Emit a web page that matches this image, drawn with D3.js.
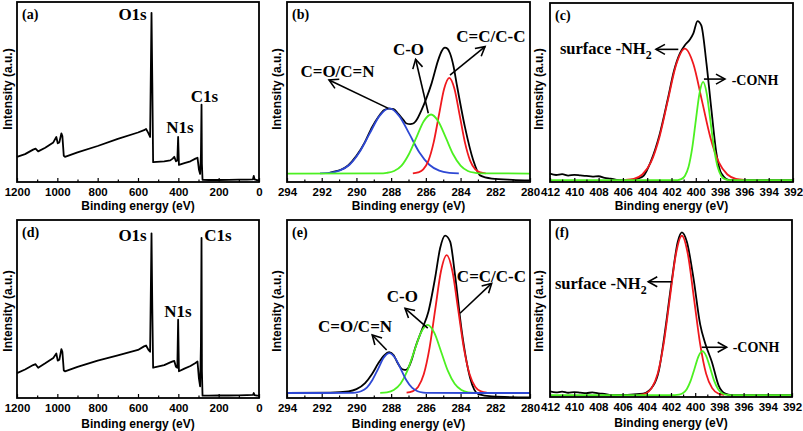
<!DOCTYPE html>
<html><head><meta charset="utf-8">
<script src="https://cdn.jsdelivr.net/npm/d3@7"></script>
<style>body{margin:0;background:#fff}svg{display:block}</style>
</head><body><svg id="chart" width="803" height="431"></svg>
<script>
// ---------- DATA (binding energy in eV, intensity in % of panel height) ----------
// (a) survey, sample 1
const surveyE_a = [1200,1160,1120,1108,1095,1060,1020,1005,998,990,980,975,968,962,900,800,700,600,570,560,548,540,533,529,525,470,440,428,420,412,405,401,397,370,340,315,305,298,292,288,285,283,280,250,200,150,100,60,30,26,22,10,0];
const surveyI_a = [14,15.5,18,18.5,17,19,22,25,21.5,22,27,25.5,14.5,14,16.5,20,24,27.5,28.8,29.5,27,25,94,55,11,11.5,12,13,14,11.5,12,25,9.5,10.5,11.5,13,13.5,7,4.5,15,43,10,1.2,1.1,1.1,1.2,1.3,1.3,1.5,3.4,1.5,1.0,1.0];
// (d) survey, sample 2
const surveyE_d = [1200,1160,1120,1108,1095,1060,1020,1005,998,990,980,975,968,962,900,800,700,600,570,560,548,540,533,529,525,470,440,428,420,412,405,401,397,370,340,315,305,298,292,288,285,283,280,250,200,150,100,60,30,26,22,10,0];
const surveyI_d = [14,16,18.5,19,17,19.5,22.5,25,21,21.5,27.5,26,15.5,15,17.5,21,24,27,29,29.5,27,26,92.5,50,17,18.5,20,20.6,20.8,17.5,17,44,15,16.5,18,19.7,20.5,11,6.5,30,90,15,1.3,1.3,1.4,1.4,1.5,1.6,1.7,2.8,1.6,1.3,1.3];
const surveyTicks = [1200,1000,800,600,400,200,0];
const surveyMinor = [1100,900,700,500,300,100];

// (b) C1s, sample 1
const c1sE_b = [291.6,291.44,290.9,290.48,290,289.52,289.1,288.75,288.4,288.13,287.85,287.6,287.3,287.11,286.9,286.73,286.5,286.25,285.95,285.67,285.29,285.1,284.9,284.75,284.61,284.4,284.23,283.75,283.27,282.88,282.2,281,280];
const c1sI_b = [4.9,5.4,6.8,9.2,14.5,22,30.5,36,40,40.8,40.5,38,34.5,32.5,32.2,32.5,35,39.9,47,54.8,67.7,72.5,74.6,74,71.5,64,54.8,30.6,12.1,3.7,1.9,1.2,0.9];
const blueE_b = [292.1,291.55,290.98,290.4,289.83,289.25,288.68,288.1,287.53,286.95,286.38,285.8,285.23,284.65,284.1];
const blueI_b = [4.8,5.1,6.3,9.6,16.5,26.7,36.6,40.9,36.6,26.7,16.5,9.6,6.3,5.1,4.8];
const greenE_b = [294,288.68,288.25,287.83,287.4,286.98,286.55,286.13,285.7,285.28,284.85,284.43,284.0,283.58,283.15,282.73,280];
const greenI_b = [4.7,4.8,5.1,6.1,9.1,15.4,24.6,33.6,37.5,33.6,24.6,15.4,9.1,6.1,5.1,4.8,4.7];
const redE_b = [286.75,286.45,286.15,285.85,285.55,285.25,284.95,284.65,284.35,284.05,283.75,283.45,283.15,282.85,282.55];
const redI_b = [4.8,5.3,7.0,11.9,22.0,37.0,51.7,57.9,51.7,37.0,22.0,11.9,7.0,5.3,4.8];

// (e) C1s, sample 2
const c1sE_e = [294,291.5,290.46,290,289.5,289.1,288.73,288.4,288.11,287.85,287.67,287.45,287.29,287.15,287.0,286.8,286.62,286.23,285.85,285.47,285.18,284.89,284.6,284.32,283.93,283.45,282.98,282.2,280];
const c1sI_e = [2.8,3.0,3.7,5.0,8.4,13.5,19.6,24,25.8,24,20.5,17,15.9,15.8,17.2,22,28,38.3,48.6,67.3,84.1,91.2,87.8,69.2,37.4,11.2,2.2,0.9,0.3];
const blueE_e = [294,290.38,290.05,289.73,289.4,289.08,288.75,288.43,288.1,287.78,287.45,287.13,286.8,286.48,286.15,285.83,280];
const blueI_e = [2.8,2.85,3.05,3.8,5.8,10.1,16.4,22.6,25.2,22.6,16.4,10.1,5.8,3.8,3.05,2.85,2.8];
const greenE_e = [288.63,288.24,287.85,287.46,287.07,286.68,286.29,285.9,285.51,285.12,284.73,284.34,283.95,283.56,283.17];
const greenI_e = [2.9,3.2,4.5,8.0,15.2,26.0,36.6,41.1,36.6,26.0,15.2,8.0,4.5,3.2,2.9];
const redE_e = [287.11,286.78,286.45,286.12,285.79,285.46,285.13,284.8,284.47,284.14,283.81,283.48,283.15,282.82,282.49];
const redI_e = [3.0,3.7,6.2,13.3,28.0,49.8,71.2,80.3,71.2,49.8,28.0,13.3,6.2,3.7,3.0];
const c1sTicks = [294,292,290,288,286,284,282,280];
const c1sMinor = [293,291,289,287,285,283,281];

// (c) N1s, sample 1
const n1sE_c = [412,411.5,411,410.5,410,409.5,409,408.5,408,407.5,407,406.5,406,405.2,404.8,404.3,403.7,403.0,402.3,401.8,401.3,400.9,400.5,400.2,399.86,399.55,399.12,398.71,398.3,397.89,397.2,392];
const n1sI_c = [4.7,3.9,4.4,3.6,4.0,3.7,3.4,3.0,3.2,2.3,1.9,1.2,1.0,1.0,1.9,3.5,11.5,26,46.5,62,72,76.4,79.5,83,89.9,87.5,66.1,40,15.9,4.7,1.0,1.0];
const redE_c = [405.8,405.1,404.4,403.7,403.0,402.3,401.6,400.9,400.2,399.5,398.8,398.1,397.4,396.7,396.0];
const redI_c = [1.2,1.8,4.2,10.9,24.9,45.6,65.9,74.5,65.9,45.6,24.9,10.9,4.2,1.8,1.2];
const greenE_c = [412,401.5,401.2,400.9,400.6,400.3,400.0,399.7,399.4,399.1,398.8,398.5,398.2,397.9,397.6,397.3,392];
const greenI_c = [1.0,1.1,1.6,3.4,8.4,18.8,34.3,49.4,55.9,49.4,34.3,18.8,8.4,3.4,1.6,1.1,1.0];

// (f) N1s, sample 2
const n1sE_f = [412,411.5,411,410.5,410,409.5,409,408.5,408,407.7,407.2,406.9,404.3,403.45,403.0,402.62,401.93,401.44,401.1,400.69,400.14,399.59,399.17,398.62,398.07,397.52,397,392];
const n1sI_f = [3.2,2.6,3.0,2.4,2.8,2.5,2.2,2.6,2.0,1.9,1.4,1.0,1.9,6.6,15,31,66,87.7,93,87.7,67,41,30.2,19.8,6.6,1.9,1.0,1.0];
const redE_f = [404.6,404.1,403.6,403.1,402.6,402.1,401.6,401.1,400.6,400.1,399.6,399.1,398.6,398.1,397.6];
const redI_f = [1.2,2.0,5.0,13.2,30.3,55.6,80.5,91.1,80.5,55.6,30.3,13.2,5.0,2.0,1.2];
const greenE_f = [412,401.68,401.35,401.03,400.7,400.38,400.05,399.73,399.4,399.08,398.75,398.43,398.1,397.78,397.45,397.13,392];
const greenI_f = [1.0,1.05,1.3,2.1,4.4,9.1,16.1,23.0,25.9,23.0,16.1,9.1,4.4,2.1,1.3,1.05,1.0];
const n1sTicks = [412,410,408,406,404,402,400,398,396,394,392];
const n1sMinor = [411,409,407,405,403,401,399,397,395,393];

// ---------- STYLE ----------
const BLACK = "#000", BLUE = "#2e48d4", RED = "#f0191e", GREEN = "#4cf021";
const SANS = "'Liberation Sans', Arial, sans-serif";
const SERIF = "'Liberation Serif', 'Times New Roman', serif";

const svg = d3.select("#chart");
svg.append("rect").attr("width",803).attr("height",431).attr("fill","#fff");
svg.append("defs").append("marker")
  .attr("id","arrow").attr("viewBox","-11 -7 13 14")
  .attr("markerWidth",13).attr("markerHeight",14)
  .attr("markerUnits","userSpaceOnUse").attr("refX",0).attr("refY",0).attr("orient","auto")
  .append("path").attr("d","M-9,-5 L0,0 L-9,5").attr("fill","none")
  .attr("stroke","#000").attr("stroke-width",1.6).attr("stroke-linejoin","miter");

function drawPanel(cfg){
  const g = svg.append("g");
  const x = d3.scaleLinear().domain(cfg.xDomain).range([cfg.x0, cfg.x1]);
  const y = d3.scaleLinear().domain([0,100]).range([cfg.y1, cfg.y0]);

  cfg.series.forEach(s => {
    const pts = s.e.map((e,i) => [e, s.i[i]]);
    const line = d3.line().x(d => x(d[0])).y(d => y(d[1]))
      .curve(s.linear ? d3.curveLinear : d3.curveMonotoneX);
    g.append("path").attr("d", line(pts)).attr("fill","none")
      .attr("stroke", s.color).attr("stroke-width", s.width || 1.8)
      .attr("stroke-linejoin","round");
  });

  // minor + major ticks (inward)
  const minor = g.append("g").attr("transform",`translate(0,${cfg.y1})`)
    .call(d3.axisBottom(x).tickValues(cfg.minor).tickSize(-2.5).tickFormat(""));
  minor.select(".domain").remove();
  minor.selectAll("line").attr("stroke","#000").attr("stroke-width",1.2);
  const major = g.append("g").attr("transform",`translate(0,${cfg.y1})`)
    .call(d3.axisBottom(x).tickValues(cfg.ticks).tickSize(-4).tickPadding(6.2).tickFormat(d3.format("d")));
  major.select(".domain").remove();
  major.selectAll("line").attr("stroke","#000").attr("stroke-width",1.2);
  major.selectAll("text").attr("font-family",SANS).attr("font-weight","bold")
    .attr("font-size",11.5).attr("fill","#000");

  // frame
  g.append("rect").attr("x",cfg.x0).attr("y",cfg.y0)
    .attr("width",cfg.x1-cfg.x0).attr("height",cfg.y1-cfg.y0)
    .attr("fill","none").attr("stroke","#000").attr("stroke-width",1.8);

  // axis titles
  g.append("text").attr("x",(cfg.x0+cfg.x1)/2).attr("y",cfg.y1+cfg.titleGap)
    .attr("text-anchor","middle").attr("font-family",SANS).attr("font-weight","bold")
    .attr("font-size",12).text("Binding energy (eV)");
  g.append("text").attr("transform",`translate(${cfg.yTitleX},${cfg.yTitleY}) rotate(-90)`)
    .attr("text-anchor","middle").attr("dominant-baseline","central")
    .attr("font-family",SANS).attr("font-weight","bold").attr("font-size",12)
    .text("Intensity (a.u.)");

  // panel tag
  g.append("text").attr("x",cfg.x0+5).attr("y",cfg.y0+17)
    .attr("font-family",SERIF).attr("font-weight","bold").attr("font-size",14)
    .text(cfg.tag);

  // arrows
  (cfg.arrows||[]).forEach(a => {
    g.append("line").attr("x1",x(a[0])).attr("y1",y(a[1])).attr("x2",x(a[2])).attr("y2",y(a[3]))
      .attr("stroke","#000").attr("stroke-width",1.6).attr("marker-end","url(#arrow)");
  });

  // annotations
  (cfg.notes||[]).forEach(n => {
    const t = g.append("text").attr("x",x(n.e)).attr("y",y(n.v))
      .attr("text-anchor",n.anchor||"middle").attr("font-family",SERIF)
      .attr("font-weight","bold").attr("font-size",n.size||17);
    t.append("tspan").text(n.text);
    if (n.sub) t.append("tspan").attr("dy",5).attr("font-size",(n.size||17)*0.72).text(n.sub);
  });
}

const TOP = {y0:2, y1:182, titleGap:27.5, yTitleY:89};
const BOT = {y0:220, y1:398, titleGap:30, yTitleY:311};

drawPanel(Object.assign({}, TOP, {
  x0:17, x1:259, xDomain:[1200,0], ticks:surveyTicks, minor:surveyMinor, tag:"(a)", yTitleX:7.5,
  series:[{e:surveyE_a, i:surveyI_a, color:BLACK, linear:true}],
  notes:[{text:"O1s", e:627, v:90},{text:"N1s", e:392, v:27.2},{text:"C1s", e:270, v:44.4}]
}));
drawPanel(Object.assign({}, TOP, {
  x0:287, x1:530, xDomain:[294,280], ticks:c1sTicks, minor:c1sMinor, tag:"(b)", yTitleX:277,
  series:[{e:c1sE_b,i:c1sI_b,color:BLACK},{e:blueE_b,i:blueI_b,color:BLUE},
          {e:redE_b,i:redI_b,color:RED},{e:greenE_b,i:greenI_b,color:GREEN}],
  arrows:[[288.16,40.9,291.58,56.7],[285.86,38.2,286.59,68.2],[284.61,59.4,282.59,75.2]],
  notes:[{text:"C=O/C=N", e:291.09, v:58.3},{text:"C-O", e:287.0, v:70.8},{text:"C=C/C-C", e:282.25, v:77.7}]
}));
drawPanel(Object.assign({}, TOP, {
  x0:550, x1:793, y0:3, xDomain:[412,392], ticks:n1sTicks, minor:n1sMinor, tag:"(c)", yTitleX:539,
  series:[{e:n1sE_c,i:n1sI_c,color:BLACK},{e:redE_c,i:redI_c,color:RED},{e:greenE_c,i:greenI_c,color:GREEN}],
  arrows:[[401.44,74.1,403.28,74.1],[399.33,57.5,397.6,57.5]],
  notes:[{text:"surface -NH", sub:"2", e:411.18, v:71.6, anchor:"start", size:16.5},
         {text:"-CONH", e:397.05, v:54.3, anchor:"start", size:14}]
}));
drawPanel(Object.assign({}, BOT, {
  x0:17, x1:259, xDomain:[1200,0], ticks:surveyTicks, minor:surveyMinor, tag:"(d)", yTitleX:7.5,
  series:[{e:surveyE_d, i:surveyI_d, color:BLACK, linear:true}],
  notes:[{text:"O1s", e:627, v:88.2},{text:"C1s", e:203, v:88.2},{text:"N1s", e:402, v:45.5}]
}));
drawPanel(Object.assign({}, BOT, {
  x0:287, x1:530, xDomain:[294,280], ticks:c1sTicks, minor:c1sMinor, tag:"(e)", yTitleX:277,
  series:[{e:c1sE_e,i:c1sI_e,color:BLACK},{e:redE_e,i:redI_e,color:RED},
          {e:greenE_e,i:greenI_e,color:GREEN},{e:blueE_e,i:blueI_e,color:BLUE}],
  arrows:[[288.26,27.0,289.09,35.4],[285.89,39.2,287.2,50.4],[284.03,47.6,282.21,64.4]],
  notes:[{text:"C=O/C=N", e:290.08, v:37.0},{text:"C-O", e:287.35, v:53.8},{text:"C=C/C-C", e:282.22, v:65.4}]
}));
drawPanel(Object.assign({}, BOT, {
  x0:550, x1:792, y1:397, xDomain:[412,392], ticks:n1sTicks, minor:n1sMinor, tag:"(f)", yTitleX:539,
  series:[{e:n1sE_f,i:n1sI_f,color:BLACK},{e:redE_f,i:redI_f,color:RED},{e:greenE_f,i:greenI_f,color:GREEN}],
  arrows:[[401.94,65.1,403.88,65.1],[399.46,28.1,397.4,28.1]],
  notes:[{text:"surface -NH", sub:"2", e:411.59, v:61.1, anchor:"start", size:16.5},
         {text:"-CONH", e:396.9, v:25.3, anchor:"start", size:14}]
}));
</script></body></html>
